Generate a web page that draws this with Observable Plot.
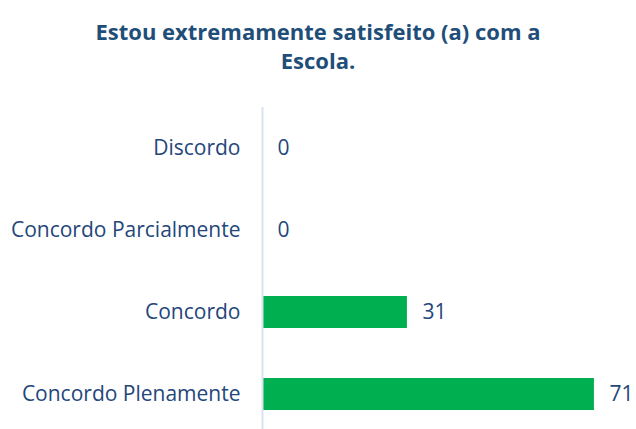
<!DOCTYPE html>
<html><head><meta charset="utf-8">
<script src="https://cdn.jsdelivr.net/npm/d3@7"></script>
<script src="https://cdn.jsdelivr.net/npm/@observablehq/plot@0.6"></script>
<style>
body{margin:0;background:#fff;width:636px;height:429px;overflow:hidden;font-family:"Open Sans",Lato,sans-serif;}
#title{height:90px;box-sizing:border-box;padding-top:17px;text-align:center;color:#1F4E79;font-weight:bold;font-size:22px;line-height:29px;}
</style></head><body>
<div id="title">Estou extremamente satisfeito (a) com a<br>Escola.</div>
<div id="chart"></div>
<script>
const categories = ["Discordo", "Concordo Parcialmente", "Concordo", "Concordo Plenamente"];
const values = [0, 0, 31, 71];
const data = categories.map((c, i) => ({cat: c, value: values[i]}));
const textColor = "#24467A";
const chart = Plot.plot({
  width: 636, height: 339,
  marginLeft: 262, marginRight: 0, marginTop: 17, marginBottom: 0,
  style: {fontFamily: "'Open Sans', Lato, sans-serif", background: "#fff"},
  x: {domain: [0, 80], axis: null},
  y: {domain: categories, range: [17, 345], paddingInner: 0.61, paddingOuter: 0.305, label: null},
  marks: [
    Plot.barX(data, {y: "cat", x: "value", fill: "#00B050"}),
    Plot.ruleX([0], {stroke: "#D9E2F3", strokeWidth: 2}),
    Plot.text(data, {y: "cat", x: "value", text: d => String(d.value), textAnchor: "start", dx: 15, fontSize: 21, fill: textColor}),
    Plot.axisY({tickSize: 0, tickPadding: 22, fontSize: 21, color: textColor, label: null})
  ]
});
document.getElementById("chart").appendChild(chart);
</script>
</body></html>
